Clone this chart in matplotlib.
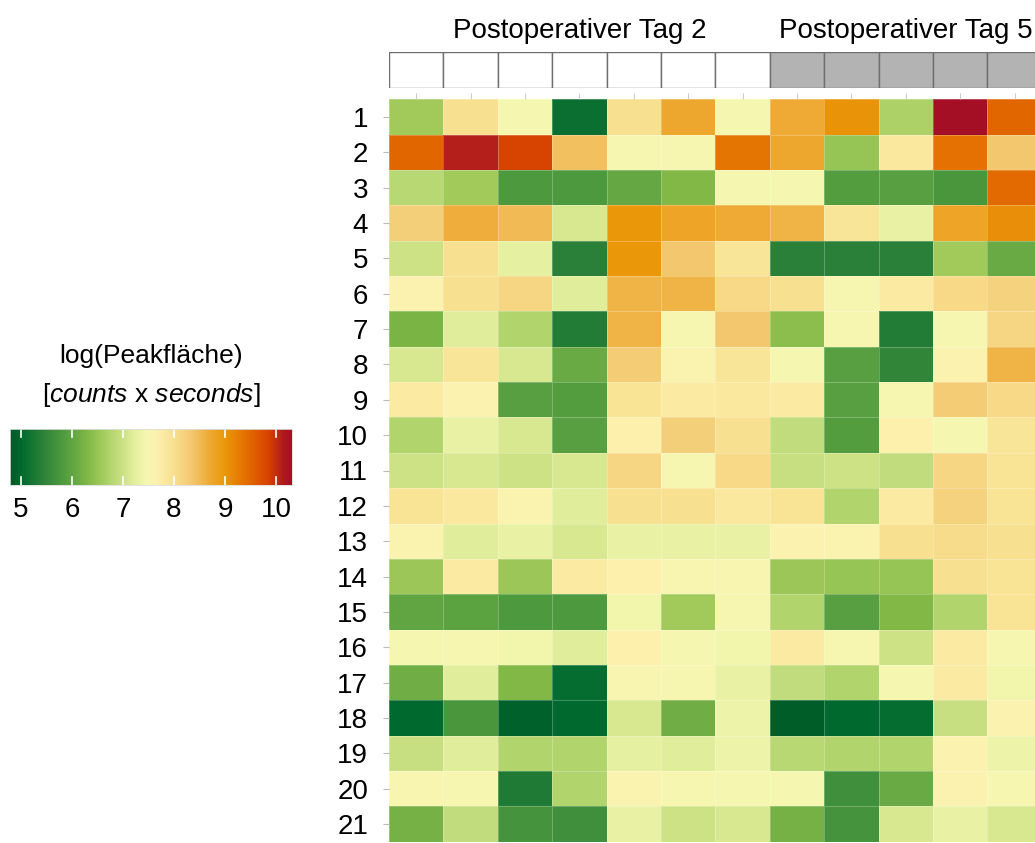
import numpy as np
import matplotlib
matplotlib.use("Agg")
import matplotlib.pyplot as plt
from matplotlib.colors import LinearSegmentedColormap, to_rgb
from matplotlib import font_manager

# ---------------- data ----------------
row_labels = [str(i) for i in range(1, 22)]
group_labels = ["Postoperativer Tag 2", "Postoperativer Tag 5"]
group_of_column = [0, 0, 0, 0, 0, 0, 0, 1, 1, 1, 1, 1]
group_colors = ["#FFFFFF", "#B3B3B3"]

values = [
    [6.6, 8.0, 7.45, 5.1, 8.0, 8.75, 7.45, 8.7, 9.05, 6.7, 10.3, 9.5],
    [9.5, 10.1, 9.85, 8.45, 7.5, 7.5, 9.35, 8.75, 6.5, 7.85, 9.4, 8.35],
    [6.8, 6.6, 5.8, 5.8, 6.05, 6.3, 7.45, 7.45, 5.85, 5.9, 5.75, 9.45],
    [8.25, 8.65, 8.5, 7.1, 9.0, 8.8, 8.7, 8.6, 7.9, 7.3, 8.8, 9.1],
    [7.0, 8.0, 7.25, 5.4, 9.0, 8.35, 7.9, 5.4, 5.4, 5.4, 6.6, 6.1],
    [7.65, 8.0, 8.15, 7.2, 8.6, 8.6, 8.1, 8.0, 7.5, 7.8, 8.1, 8.2],
    [6.25, 7.2, 6.75, 5.35, 8.6, 7.5, 8.35, 6.4, 7.5, 5.35, 7.5, 8.15],
    [7.1, 7.9, 7.1, 6.1, 8.3, 7.6, 7.9, 7.45, 5.9, 5.5, 7.65, 8.6],
    [7.8, 7.65, 5.9, 5.85, 7.95, 7.8, 7.85, 7.8, 5.9, 7.5, 8.3, 8.1],
    [6.75, 7.3, 7.1, 5.9, 7.7, 8.25, 8.0, 6.9, 5.85, 7.7, 7.45, 7.9],
    [7.0, 7.1, 7.0, 7.1, 8.15, 7.5, 8.1, 6.95, 7.0, 6.9, 8.15, 7.95],
    [7.95, 7.85, 7.6, 7.2, 8.0, 8.0, 7.85, 7.95, 6.75, 7.8, 8.2, 7.95],
    [7.6, 7.2, 7.3, 7.1, 7.3, 7.3, 7.3, 7.65, 7.6, 8.0, 8.05, 8.0],
    [6.55, 7.8, 6.55, 7.8, 7.7, 7.55, 7.55, 6.55, 6.5, 6.5, 8.0, 7.95],
    [6.0, 5.95, 5.8, 5.8, 7.4, 6.6, 7.5, 6.75, 5.9, 6.3, 6.75, 7.95],
    [7.45, 7.5, 7.4, 7.2, 7.7, 7.45, 7.4, 7.8, 7.5, 7.0, 7.8, 7.5],
    [6.15, 7.2, 6.3, 5.05, 7.55, 7.5, 7.3, 6.9, 6.75, 7.45, 7.8, 7.4],
    [5.0, 5.75, 4.9, 5.0, 7.1, 6.15, 7.35, 4.85, 5.0, 5.05, 6.95, 7.65],
    [6.95, 7.2, 6.75, 6.75, 7.25, 7.2, 7.35, 6.8, 6.75, 6.75, 7.65, 7.35],
    [7.55, 7.5, 5.3, 6.75, 7.6, 7.5, 7.45, 7.45, 5.65, 6.1, 7.65, 7.5],
    [6.2, 6.9, 5.7, 5.65, 7.3, 7.0, 7.1, 6.2, 5.7, 7.1, 7.3, 7.1],
]
cbar_ticks = [5, 6, 7, 8, 9, 10]
vmin, vmax = 4.79, 10.31

# ---------------- fonts ----------------
avail = {f.name for f in font_manager.fontManager.ttflist}
fam = [f for f in ["Liberation Sans Narrow", "Liberation Sans", "DejaVu Sans"] if f in avail]
plt.rcParams["font.family"] = fam
plt.rcParams["mathtext.fontset"] = "custom"
plt.rcParams["mathtext.it"] = fam[0] + ":italic"
plt.rcParams["mathtext.rm"] = fam[0]

# ---------------- colormap ----------------
stops = [
    (4.79, "#005A26"), (5.0, "#006A2E"), (5.4, "#2A8038"), (5.8, "#4E9A3E"),
    (6.1, "#6AAB44"), (6.3, "#80B846"), (6.6, "#A3CB5C"), (6.8, "#B8D874"),
    (7.0, "#CDE185"), (7.2, "#E1EE9C"), (7.45, "#F5F7B0"), (7.65, "#FCF2B0"),
    (8.0, "#F8E090"), (8.35, "#F3C870"), (8.7, "#EEAA35"), (9.0, "#EA980A"),
    (9.45, "#E36C00"), (9.85, "#D84400"), (10.15, "#AF1A1E"), (10.31, "#A50F25"),
]
cmap = LinearSegmentedColormap.from_list(
    "peak", [((v - vmin) / (vmax - vmin), to_rgb(c)) for v, c in stops])

W, H = 1035, 843
fig = plt.figure(figsize=(W / 100, H / 100), dpi=100)

def frac(x0, y0, x1, y1):
    return [x0 / W, 1 - y1 / H, (x1 - x0) / W, (y1 - y0) / H]

data = np.array(values)
nrow, ncol = data.shape
cw = 54.4
x0 = 389
x1 = x0 + ncol * cw

# heatmap
ax = fig.add_axes(frac(x0, 99.3, x1, 841.7))
ax.pcolormesh(np.arange(ncol + 1), np.arange(nrow + 1), data, cmap=cmap,
              vmin=vmin, vmax=vmax, edgecolors=(1, 1, 1, 0.25), linewidth=0.5)
ax.set_xlim(0, ncol)
ax.set_ylim(nrow, 0)
for s in ax.spines.values():
    s.set_visible(False)
ax.set_yticks(np.arange(nrow) + 0.5)
ax.set_yticklabels(row_labels, fontsize=20)
ax.tick_params(axis="y", length=4, color="#BBBBBB", pad=11)
ax.xaxis.tick_top()
ax.set_xticks(np.arange(ncol) + 0.5)
ax.set_xticklabels([])
ax.tick_params(axis="x", length=4, color="#CCCCCC", width=0.8)

# annotation bar
aa = fig.add_axes(frac(x0, 51.7, x1, 88.3))
for j, g in enumerate(group_of_column):
    aa.add_patch(plt.Rectangle((j, 0), 1, 1, facecolor=group_colors[g],
                               edgecolor="#6E6E6E", linewidth=1.0))
aa.set_xlim(0, ncol)
aa.set_ylim(0, 1)
aa.axis("off")
for gi, lab in enumerate(group_labels):
    cols = [j for j, g in enumerate(group_of_column) if g == gi]
    xc = (min(cols) + max(cols) + 1) / 2
    aa.text(xc, 1 + 13.5 / 36.6, lab, ha="center", va="baseline", fontsize=20,
            clip_on=False)

# colorbar
ca = fig.add_axes(frac(10, 429, 292, 485))
grad = np.linspace(vmin, vmax, 512).reshape(1, -1)
ca.imshow(grad, aspect="auto", cmap=cmap, vmin=vmin, vmax=vmax,
          extent=[vmin, vmax, 0, 1])
ca.set_xlim(vmin, vmax)
ca.set_ylim(0, 1)
for t in cbar_ticks:
    ca.plot([t, t], [0, 0.14], color="white", lw=1.2)
    ca.plot([t, t], [0.86, 1], color="white", lw=1.2)
    ca.text(t, -25 / 56, str(t), ha="center", va="center", fontsize=20,
            transform=ca.transData, clip_on=False)
ca.set_xticks([])
ca.set_yticks([])
for s in ca.spines.values():
    s.set_color("#DDDDDD")
    s.set_linewidth(0.6)

fig.text(151 / W, 1 - 363 / H, "log(Peakfläche)", ha="center", va="baseline",
         fontsize=19)
fig.text(151 / W, 1 - 401.5 / H, r"[$\it{counts}$ x $\it{seconds}$]",
         ha="center", va="baseline", fontsize=19)

fig.savefig("out.png", dpi=100)
